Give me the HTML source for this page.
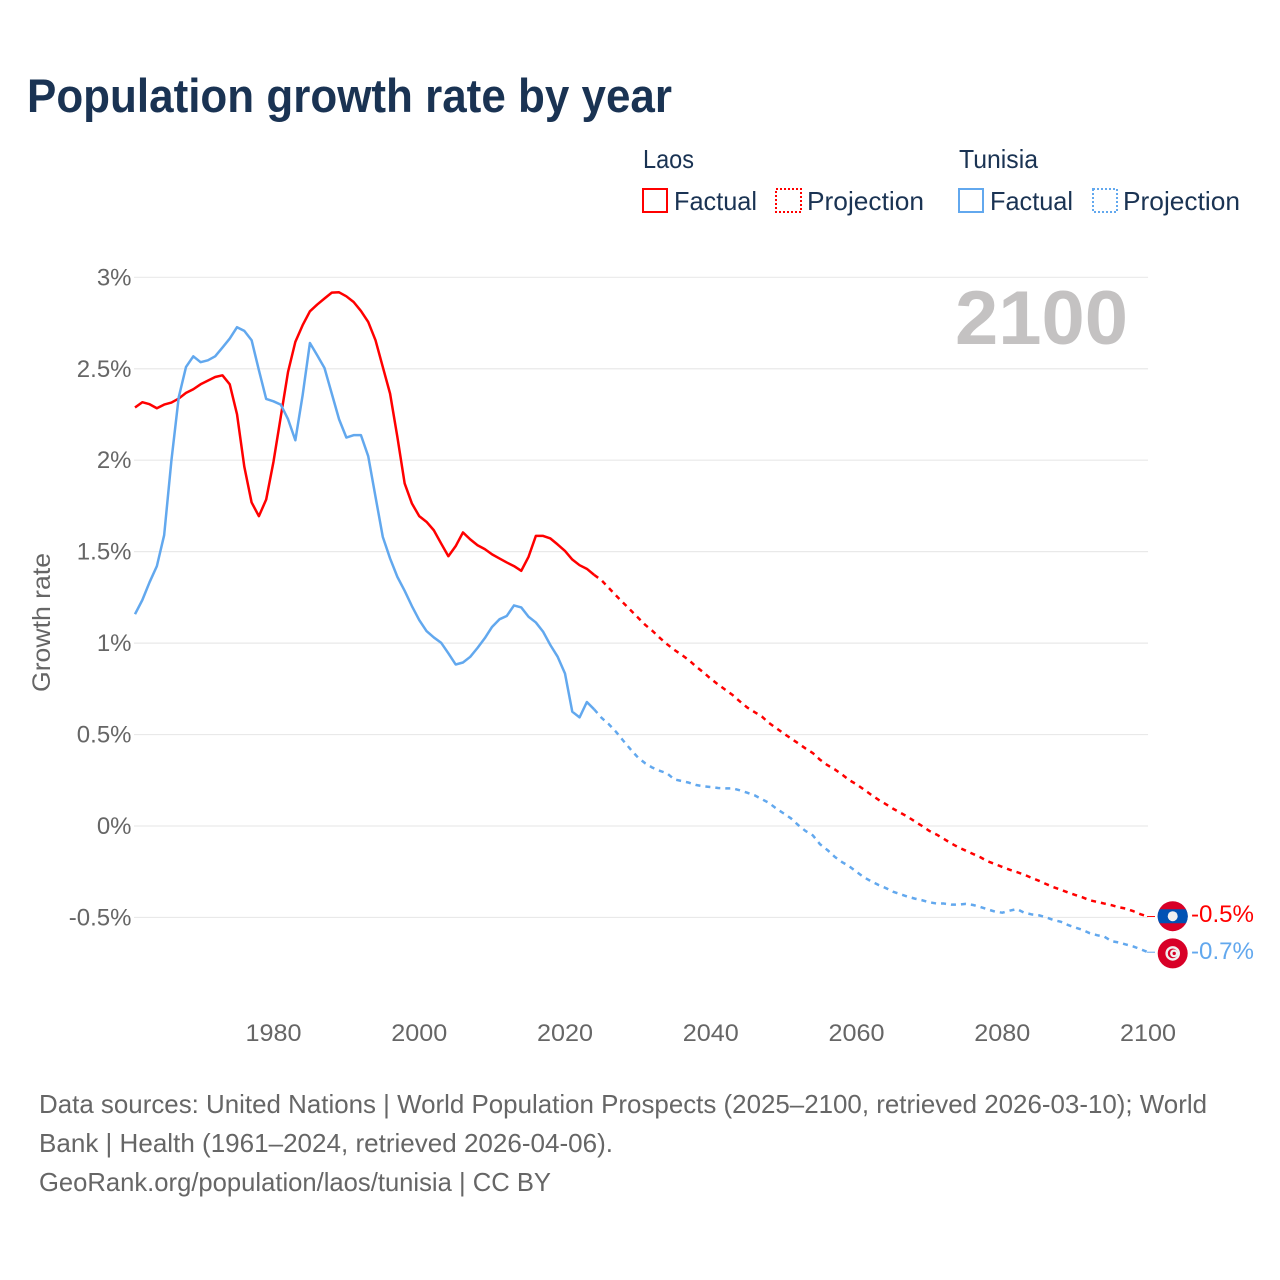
<!DOCTYPE html>
<html lang="en">
<head>
<meta charset="utf-8">
<title>Population growth rate by year</title>
<style>
  html, body { margin: 0; padding: 0; background: #fff; }
  svg { display: block; font-family: "Liberation Sans", sans-serif; }
</style>
</head>
<body>
<svg id="chart" width="1280" height="1280" viewBox="0 0 1280 1280" xmlns="http://www.w3.org/2000/svg">
  <rect x="0" y="0" width="1280" height="1280" fill="#ffffff"/>
  <text x="27" y="112" font-size="47" font-weight="700" fill="#1a3353" textLength="645" lengthAdjust="spacingAndGlyphs">Population growth rate by year</text>

  <g font-size="26" fill="#1a3353">
    <text x="643" y="168" textLength="51" lengthAdjust="spacingAndGlyphs">Laos</text>
    <g>
      <rect x="643" y="189" width="24" height="23" fill="none" stroke="#ff0000" stroke-width="2"/>
      <text x="674" y="210" textLength="83" lengthAdjust="spacingAndGlyphs">Factual</text>
    </g>
    <g>
      <rect x="776" y="189" width="25" height="23" fill="none" stroke="#ff0000" stroke-width="2" stroke-dasharray="2 2"/>
      <text x="807" y="210" textLength="117" lengthAdjust="spacingAndGlyphs">Projection</text>
    </g>
    <text x="959" y="168" textLength="79" lengthAdjust="spacingAndGlyphs">Tunisia</text>
    <g>
      <rect x="959" y="189" width="24" height="23" fill="none" stroke="#62a8ee" stroke-width="2"/>
      <text x="990" y="210" textLength="83" lengthAdjust="spacingAndGlyphs">Factual</text>
    </g>
    <g>
      <rect x="1093" y="189" width="24" height="23" fill="none" stroke="#62a8ee" stroke-width="2" stroke-dasharray="2 2"/>
      <text x="1123" y="210" textLength="117" lengthAdjust="spacingAndGlyphs">Projection</text>
    </g>
  </g>

  <g id="grid"></g>
  <g id="yticks" font-size="24" fill="#666666" text-anchor="end"></g>
  <g id="xticks" font-size="24" fill="#666666" text-anchor="middle"></g>

  <text transform="translate(50 622.5) rotate(-90)" font-size="25" fill="#666666" text-anchor="middle" textLength="139" lengthAdjust="spacingAndGlyphs">Growth rate</text>
  <text x="955" y="344" font-size="76" font-weight="700" fill="#c4c2c2" textLength="173" lengthAdjust="spacingAndGlyphs">2100</text>

  <g id="series"></g>

  <g id="end-laos">
    <circle cx="1172.7" cy="916.2" r="15" fill="#d80027"/>
    <path d="M1159.43 909.2H1185.97A15 15 0 0 1 1185.97 923.2H1159.43A15 15 0 0 1 1159.43 909.2z" fill="#0052b4"/>
    <circle cx="1172.7" cy="916.2" r="5" fill="#f0f0f0"/>
    <text x="1191" y="922" font-size="24" fill="#ff0000" textLength="63" lengthAdjust="spacingAndGlyphs">-0.5%</text>
  </g>
  <g id="end-tunisia">
    <circle cx="1172.7" cy="953.4" r="15" fill="#d80027"/>
    <circle cx="1172.7" cy="953.4" r="7.3" fill="#f0f0f0"/>
    <circle cx="1172.7" cy="953.4" r="4.9" fill="#d80027"/>
    <circle cx="1174" cy="953.4" r="3.9" fill="#f0f0f0"/>
    <circle cx="1174.2" cy="953.4" r="1.7" fill="#d80027"/>
    <text x="1191" y="959" font-size="24" fill="#62a8ee" textLength="63" lengthAdjust="spacingAndGlyphs">-0.7%</text>
  </g>

  <g font-size="26" fill="#666666">
    <text x="39" y="1113" textLength="1168" lengthAdjust="spacingAndGlyphs">Data sources: United Nations | World Population Prospects (2025–2100, retrieved 2026-03-10); World</text>
    <text x="39" y="1152" textLength="574" lengthAdjust="spacingAndGlyphs">Bank | Health (1961–2024, retrieved 2026-04-06).</text>
    <text x="39" y="1191" textLength="512" lengthAdjust="spacingAndGlyphs">GeoRank.org/population/laos/tunisia | CC BY</text>
  </g>
</svg>

<script>
const xTickYears = [1980, 2000, 2020, 2040, 2060, 2080, 2100];
const yTickValues = [3, 2.5, 2, 1.5, 1, 0.5, 0, -0.5];
const yTickLabels = ["3%", "2.5%", "2%", "1.5%", "1%", "0.5%", "0%", "-0.5%"];
const factualStartYear = 1961;
const projectionStartYear = 2024;

const laosFactual = [
  2.288, 2.317, 2.306, 2.284, 2.304, 2.315, 2.337, 2.368, 2.388,
  2.415, 2.435, 2.455, 2.464, 2.415, 2.251, 1.964, 1.769, 1.694, 1.785,
  1.991, 2.237, 2.483, 2.647, 2.738, 2.814, 2.851, 2.884, 2.916, 2.918,
  2.896, 2.865, 2.816, 2.756, 2.656, 2.510, 2.364, 2.127, 1.873, 1.763,
  1.694, 1.663, 1.617, 1.545, 1.475, 1.530, 1.605, 1.567, 1.535, 1.514,
  1.485, 1.463, 1.441, 1.421, 1.395, 1.472, 1.586, 1.586, 1.572, 1.539,
  1.504, 1.457, 1.426, 1.406, 1.373
];
const laosProjection = [
  1.373, 1.344, 1.302, 1.26, 1.22, 1.18,
  1.14, 1.10, 1.067, 1.029, 0.994, 0.963, 0.936, 0.907, 0.871, 0.84,
  0.805, 0.774, 0.745, 0.716, 0.681, 0.648, 0.623, 0.599, 0.563, 0.535,
  0.506, 0.479, 0.452, 0.424, 0.399, 0.362, 0.333, 0.31, 0.282, 0.251,
  0.228, 0.2, 0.171, 0.144, 0.12, 0.095, 0.073, 0.051, 0.025, 0,
  -0.027, -0.047, -0.071, -0.095, -0.117, -0.135, -0.153, -0.171, -0.193, -0.208,
  -0.224, -0.239, -0.252, -0.266, -0.283, -0.299, -0.317, -0.334, -0.348, -0.363,
  -0.377, -0.39, -0.406, -0.415, -0.424, -0.433, -0.444, -0.452, -0.466, -0.483,
  -0.495
];
const tunisiaFactual = [
  1.158, 1.235, 1.333, 1.421, 1.590, 2.0, 2.344, 2.51, 2.568,
  2.536, 2.546, 2.568, 2.616, 2.665, 2.727, 2.707, 2.656, 2.492, 2.335,
  2.322, 2.304, 2.224, 2.109, 2.355, 2.641, 2.574, 2.504, 2.364, 2.224,
  2.124, 2.137, 2.137, 2.022, 1.80, 1.581, 1.463, 1.362, 1.286, 1.202,
  1.126, 1.066, 1.031, 1.002, 0.944, 0.883, 0.894, 0.925, 0.974, 1.027,
  1.089, 1.13, 1.148, 1.206, 1.195, 1.144, 1.113, 1.062, 0.989, 0.925,
  0.834, 0.625, 0.594, 0.678, 0.638
];
const tunisiaProjection = [
  0.638, 0.592, 0.557, 0.515, 0.466, 0.419,
  0.375, 0.343, 0.319, 0.302, 0.288, 0.255, 0.246, 0.237, 0.224, 0.217,
  0.213, 0.208, 0.206, 0.206, 0.195, 0.182, 0.168, 0.147, 0.126, 0.095,
  0.069, 0.042, 0.005, -0.027, -0.051, -0.1, -0.131, -0.168, -0.197, -0.22,
  -0.25, -0.28, -0.302, -0.322, -0.339, -0.359, -0.373, -0.386, -0.397, -0.406,
  -0.417, -0.424, -0.424, -0.43, -0.43, -0.426, -0.432, -0.443, -0.456, -0.468,
  -0.474, -0.463, -0.454, -0.474, -0.483, -0.488, -0.499, -0.514, -0.523, -0.541,
  -0.555, -0.568, -0.586, -0.597, -0.605, -0.63, -0.637, -0.648, -0.659, -0.674,
  -0.69
];

const NS = "http://www.w3.org/2000/svg";
const RED = "#ff0000";
const BLUE = "#62a8ee";
function xScale(year) { return 135 + (year - 1961) * 7.288; }
function yScale(value) { return 826 - value * 182.9; }
function pointsFrom(values, startYear) {
  return values.map(function (v, i) {
    return xScale(startYear + i).toFixed(2) + "," + yScale(v).toFixed(2);
  }).join(" ");
}

const gridGroup = document.getElementById("grid");
const yGroup = document.getElementById("yticks");
const xGroup = document.getElementById("xticks");
const seriesGroup = document.getElementById("series");

yTickValues.forEach(function (v, i) {
  const line = document.createElementNS(NS, "line");
  
  
  line.setAttribute("x1", 134);
  line.setAttribute("x2", xScale(2100));
  line.setAttribute("y1", yScale(v));
  line.setAttribute("y2", yScale(v));
  line.setAttribute("stroke", "#e9e9e9");
  line.setAttribute("stroke-width", "1.2");
  gridGroup.appendChild(line);

  const label = document.createElementNS(NS, "text");
  
  
  label.setAttribute("x", 131.5);
  label.setAttribute("y", yScale(v) + 8);
  label.textContent = yTickLabels[i];
  yGroup.appendChild(label);
});

xTickYears.forEach(function (year) {
  const label = document.createElementNS(NS, "text");
  
  
  label.setAttribute("x", xScale(year));
  label.setAttribute("y", 1041);
  label.setAttribute("textLength", 56);
  label.setAttribute("lengthAdjust", "spacingAndGlyphs");
  label.textContent = String(year);
  xGroup.appendChild(label);
});

function addLine(values, startYear, color, dashed, name) {
  const pl = document.createElementNS(NS, "polyline");
  
  
  pl.setAttribute("points", pointsFrom(values, startYear));
  pl.setAttribute("fill", "none");
  pl.setAttribute("stroke", color);
  pl.setAttribute("stroke-width", "2.5");
  pl.setAttribute("stroke-linejoin", "round");
  if (dashed) { pl.setAttribute("stroke-dasharray", "5 5"); }
  seriesGroup.appendChild(pl);
}

addLine(laosFactual, factualStartYear, RED, false, "line-laos-factual");
addLine(laosProjection, projectionStartYear, RED, true, "line-laos-projection");
addLine(tunisiaFactual, factualStartYear, BLUE, false, "line-tunisia-factual");
addLine(tunisiaProjection, projectionStartYear, BLUE, true, "line-tunisia-projection");

function addConnector(values, color, name) {
  const last = values[values.length - 1];
  const c = document.createElementNS(NS, "line");
  
  
  c.setAttribute("x1", xScale(2100) - 1);
  c.setAttribute("x2", 1155);
  c.setAttribute("y1", yScale(last));
  c.setAttribute("y2", yScale(last));
  c.setAttribute("stroke", color);
  c.setAttribute("stroke-width", "1");
  seriesGroup.appendChild(c);
}
addConnector(laosProjection, RED, "connector-laos");
addConnector(tunisiaProjection, BLUE, "connector-tunisia");
</script>
</body>
</html>
